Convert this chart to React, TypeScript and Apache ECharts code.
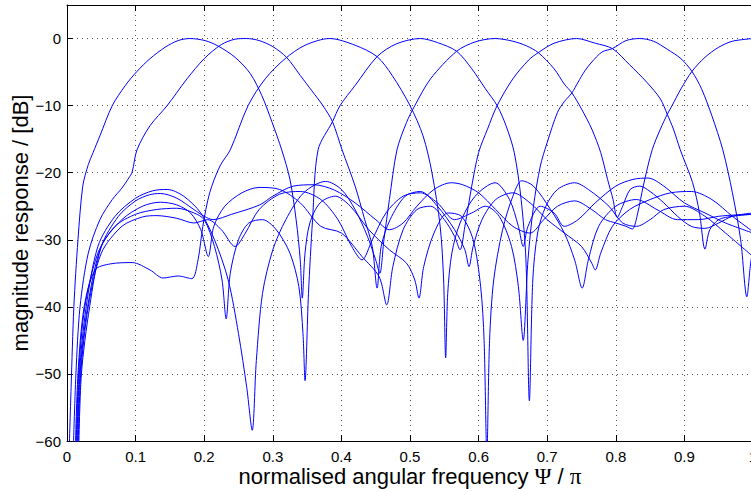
import React, { useEffect, useRef } from "react";
import * as echarts from "echarts";

// Frequency axis (normalised, Ψ/π) and magnitude (dB) ticks
const xTicks = [0, 0.1, 0.2, 0.3, 0.4, 0.5, 0.6, 0.7, 0.8, 0.9, 1];
const yTicks = [-60, -50, -40, -30, -20, -10, 0];

// Eight band-pass filter magnitude responses: [normalised frequency, dB]
const filterA: number[][] = [
  [0.003, -62], [0.006, -52], [0.01, -40], [0.016, -30], [0.023, -22], [0.031, -18.8], [0.038, -17], [0.048, -14.5],
  [0.066, -10], [0.085, -7], [0.102, -4.9], [0.121, -3], [0.143, -1.3], [0.162, -0.3], [0.179, 0], [0.201, -0.3],
  [0.22, -1.1], [0.245, -2.8], [0.267, -5.2], [0.284, -8.5], [0.299, -12.5], [0.313, -16.6], [0.325, -21], [0.334, -27],
  [0.34, -33], [0.343, -38.7], [0.347, -32], [0.354, -27.5], [0.369, -24.5], [0.391, -23.5], [0.413, -25], [0.44, -28.5],
  [0.47, -31.5], [0.495, -33.5], [0.507, -36], [0.513, -38.7], [0.52, -34], [0.535, -29], [0.555, -26], [0.575, -26.5],
  [0.592, -30], [0.603, -37], [0.608, -45], [0.612, -62], [0.616, -45], [0.622, -36], [0.635, -28.5], [0.65, -23.5],
  [0.663, -21.2], [0.68, -22], [0.705, -25.5], [0.725, -29], [0.74, -33], [0.751, -37.2], [0.76, -33], [0.775, -28],
  [0.8, -25], [0.83, -24], [0.86, -25.5], [0.89, -27], [0.92, -27], [0.95, -26.5], [0.975, -26.3], [1, -26.2],
];
const filterB: number[][] = [
  [0.009, -62], [0.013, -50], [0.019, -40], [0.031, -32], [0.048, -27], [0.066, -24], [0.08, -22.3], [0.09, -20.8],
  [0.095, -19.9], [0.102, -16.6], [0.121, -13], [0.146, -10], [0.175, -6], [0.2, -3], [0.225, -0.9], [0.245, -0.1],
  [0.262, 0], [0.28, -0.3], [0.3, -1.2], [0.32, -2.8], [0.34, -5.5], [0.357, -7.8], [0.373, -10], [0.387, -12.4],
  [0.401, -16.6], [0.42, -22], [0.434, -27], [0.445, -31], [0.452, -37.2], [0.458, -31], [0.471, -27], [0.493, -23.5],
  [0.515, -22.8], [0.54, -25], [0.565, -28.5], [0.58, -31.5], [0.586, -34], [0.592, -31], [0.605, -27], [0.625, -24],
  [0.65, -23], [0.675, -24.5], [0.7, -27], [0.725, -29], [0.75, -31], [0.765, -33.5], [0.77, -34.5], [0.778, -32],
  [0.795, -28], [0.82, -25.5], [0.85, -24], [0.88, -23], [0.91, -22.8], [0.94, -24], [0.97, -26.5], [1, -28.8],
];
const filterC: number[][] = [
  [0.012, -62], [0.016, -50], [0.025, -40], [0.041, -34.5], [0.063, -33.6], [0.095, -33.4], [0.121, -34.5], [0.14, -35.7],
  [0.162, -35.4], [0.182, -35.8], [0.191, -33], [0.198, -28], [0.208, -23], [0.223, -19], [0.238, -16.6], [0.264, -10],
  [0.289, -6], [0.318, -3], [0.347, -1], [0.383, 0], [0.42, -1], [0.452, -2.7], [0.474, -5.5], [0.5, -10],
  [0.519, -14.5], [0.532, -20], [0.544, -28], [0.549, -36], [0.552, -47.6], [0.555, -38], [0.561, -32], [0.573, -27.5],
  [0.595, -23.5], [0.624, -21.5], [0.645, -24], [0.658, -28], [0.665, -31], [0.672, -28], [0.69, -25], [0.71, -26],
  [0.725, -28], [0.745, -27], [0.77, -24.5], [0.8, -22], [0.825, -21], [0.847, -20.8], [0.87, -22], [0.9, -24.5],
  [0.93, -26], [0.96, -27.5], [1, -29],
];
const filterD: number[][] = [
  [0.013, -62], [0.017, -50], [0.026, -40], [0.045, -32], [0.07, -28], [0.1, -26.2], [0.13, -25.5], [0.16, -25.3],
  [0.185, -26], [0.2, -27], [0.215, -31], [0.226, -36], [0.232, -41.8], [0.238, -35], [0.25, -30], [0.265, -27.5],
  [0.285, -27], [0.305, -28.5], [0.325, -32], [0.338, -37], [0.344, -44], [0.347, -51], [0.352, -38], [0.358, -27],
  [0.366, -16.6], [0.387, -12.4], [0.398, -10], [0.42, -7], [0.452, -2.7], [0.48, -0.8], [0.515, 0], [0.54, -0.6],
  [0.568, -1.9], [0.59, -4.5], [0.61, -7.5], [0.627, -10], [0.64, -13], [0.652, -17], [0.662, -24], [0.669, -33],
  [0.674, -54], [0.679, -36], [0.686, -29], [0.698, -25], [0.715, -22.5], [0.74, -21.5], [0.76, -22.5], [0.79, -25],
  [0.81, -27.5], [0.83, -28], [0.85, -27], [0.87, -25.5], [0.9, -25], [0.93, -26.5], [0.96, -29], [1, -32.5],
];
const filterE: number[][] = [
  [0.014, -62], [0.018, -50], [0.028, -40], [0.045, -31], [0.07, -26.5], [0.1, -23.8], [0.125, -22.7], [0.146, -22.5],
  [0.17, -23.5], [0.195, -26], [0.215, -30], [0.235, -36], [0.25, -44], [0.262, -52], [0.27, -58.4], [0.276, -48],
  [0.285, -38], [0.3, -31.5], [0.319, -27], [0.345, -23], [0.377, -21.3], [0.4, -22.5], [0.42, -25.5], [0.438, -29.5],
  [0.45, -33], [0.456, -35], [0.462, -30], [0.47, -24], [0.481, -16.6], [0.495, -12.5], [0.507, -10], [0.53, -6],
  [0.568, -1.9], [0.595, -0.5], [0.624, 0], [0.65, -0.4], [0.67, -1.1], [0.687, -2.1], [0.71, -4.5], [0.725, -6.8],
  [0.736, -8.1], [0.75, -10.5], [0.765, -13.5], [0.778, -17], [0.788, -21], [0.796, -24], [0.802, -26.7], [0.81, -25],
  [0.821, -22.5], [0.835, -22], [0.85, -22.8], [0.87, -24.5], [0.89, -26.5], [0.91, -28], [0.93, -28.3], [0.95, -27.5],
  [0.97, -26.5], [1, -26],
];
const filterF: number[][] = [
  [0.015, -62], [0.019, -50], [0.03, -40], [0.05, -31], [0.08, -27], [0.11, -25], [0.136, -24.4], [0.16, -24.8],
  [0.18, -26], [0.195, -28.5], [0.206, -32.5], [0.214, -28], [0.23, -25], [0.255, -23], [0.28, -22.2], [0.31, -22.5],
  [0.34, -24.5], [0.37, -28], [0.4, -29], [0.43, -32.5], [0.455, -35.5], [0.466, -39.7], [0.475, -34], [0.49, -28.5],
  [0.51, -25.5], [0.53, -25], [0.55, -27], [0.565, -29.5], [0.573, -31.5], [0.58, -28], [0.59, -22], [0.6, -17],
  [0.613, -13.5], [0.627, -10], [0.65, -6], [0.673, -3.2], [0.687, -2.1], [0.71, -0.7], [0.743, 0], [0.77, -0.7],
  [0.795, -1.5], [0.82, -3.9], [0.845, -6.5], [0.865, -9], [0.875, -11.3], [0.884, -13.5], [0.894, -16.6], [0.912, -21.5],
  [0.922, -26], [0.93, -31.4], [0.937, -28.5], [0.95, -27], [0.97, -26.5], [1, -26.2],
];
const filterG: number[][] = [
  [0.016, -62], [0.02, -50], [0.031, -40], [0.05, -32], [0.08, -28], [0.11, -26.6], [0.131, -26.4], [0.16, -26.8],
  [0.185, -27.5], [0.205, -27], [0.225, -28.5], [0.245, -31], [0.26, -29], [0.28, -25.5], [0.31, -23.2], [0.34, -22.8],
  [0.37, -24], [0.395, -27], [0.415, -31], [0.43, -33], [0.445, -30], [0.465, -26], [0.49, -23.5], [0.515, -23],
  [0.54, -24.5], [0.565, -27], [0.59, -26], [0.61, -25], [0.63, -26.5], [0.648, -31], [0.658, -37], [0.665, -45],
  [0.672, -33], [0.68, -25], [0.69, -19], [0.7, -15.5], [0.715, -11], [0.725, -9.4], [0.736, -8.1], [0.745, -6.5],
  [0.755, -4.8], [0.765, -3.5], [0.78, -2], [0.795, -1.5], [0.815, -0.3], [0.835, 0], [0.855, -0.4], [0.875, -1.6],
  [0.895, -3], [0.911, -4.9], [0.925, -7.5], [0.94, -11.5], [0.956, -16.6], [0.97, -23], [0.982, -30], [0.991, -38.5],
  [0.996, -34], [1, -31],
];
const filterH: number[][] = [
  [0.017, -62], [0.021, -50], [0.033, -40], [0.05, -31], [0.075, -26.5], [0.1, -24.2], [0.12, -23.3], [0.136, -23.1],
  [0.16, -23.8], [0.185, -25.5], [0.2, -26.5], [0.213, -27], [0.24, -26.2], [0.281, -24.8], [0.3, -23.5], [0.33, -22],
  [0.36, -21.8], [0.39, -22.6], [0.42, -24.5], [0.45, -27], [0.47, -28.5], [0.49, -27.5], [0.51, -25], [0.535, -22.5],
  [0.56, -21.5], [0.577, -21.8], [0.6, -23], [0.625, -25.5], [0.65, -28], [0.675, -29], [0.695, -27], [0.715, -25],
  [0.74, -24.2], [0.765, -25.5], [0.785, -27], [0.8, -27.5], [0.815, -28], [0.824, -28.4], [0.832, -26], [0.84, -22],
  [0.853, -16.6], [0.865, -13.5], [0.875, -11.3], [0.882, -10], [0.895, -7.5], [0.911, -4.9], [0.93, -2.8], [0.95, -1.3],
  [0.97, -0.4], [1, 0],
];

const filters = [filterA, filterB, filterC, filterD, filterE, filterF, filterG, filterH];

const FONT = "'Liberation Sans', Arial, Helvetica, sans-serif";
const SERIF = "'Liberation Serif', 'DejaVu Serif', serif";

export default function App() {
  const ref = useRef<HTMLDivElement>(null);
  useEffect(() => {
    if (!ref.current) return;
    const chart = echarts.init(ref.current, undefined, { renderer: "svg" });
    const fmtY = (v: number) => {
      if (!yTicks.includes(v)) return "";
      return v < 0 ? "\u2212" + Math.abs(v) : String(v);
    };
    chart.setOption({
      animation: false,
      backgroundColor: "#ffffff",
      grid: { left: 67, right: -2, top: 5, bottom: 51, outerBoundsMode: "none" },
      xAxis: [
        {
          type: "value",
          min: 0,
          max: 1,
          interval: 0.1,
          name: "normalised angular frequency {s|\u03a8} / {s|\u03c0}",
          nameLocation: "middle",
          nameGap: 24,
          nameMoveOverlap: false,
          nameTextStyle: {
            color: "#000",
            fontSize: 22,
            fontFamily: FONT,
            rich: { s: { fontFamily: SERIF, fontSize: 23, color: "#000" } },
          },
          axisLine: { show: true, onZero: false, lineStyle: { color: "#000", width: 1 } },
          axisTick: { show: true, inside: true, length: 6, lineStyle: { color: "#000" } },
          axisLabel: {
            color: "#000",
            fontSize: 15,
            fontFamily: FONT,
            margin: 8,
            formatter: (v: number) => {
              const t = xTicks.find((x) => Math.abs(x - v) < 1e-6);
              return t === undefined ? "" : String(t);
            },
          },
          splitLine: { show: true, lineStyle: { color: "#555", width: 1, type: [1, 4] } },
        },
        {
          type: "value",
          position: "top",
          min: 0,
          max: 1,
          interval: 0.1,
          axisLine: { show: true, onZero: false, lineStyle: { color: "#000", width: 1 } },
          axisTick: { show: true, inside: true, length: 6, lineStyle: { color: "#000" } },
          axisLabel: { show: false },
          splitLine: { show: false },
        },
      ],
      yAxis: {
        type: "value",
        min: -60,
        max: 5,
        interval: 10,
        name: "magnitude response / [dB]",
        nameLocation: "middle",
        nameGap: 36,
        nameMoveOverlap: false,
        nameTextStyle: { color: "#000", fontSize: 22, fontFamily: FONT },
        axisLine: { show: true, onZero: false, lineStyle: { color: "#000", width: 1 } },
        axisTick: { show: true, inside: true, length: 6, lineStyle: { color: "#000" } },
        axisLabel: { color: "#000", fontSize: 15, fontFamily: FONT, margin: 6, formatter: fmtY },
        splitLine: { show: true, lineStyle: { color: "#555", width: 1, type: [1, 4] } },
      },
      series: filters.map((d, i) => ({
        type: "line",
        name: "filter" + (i + 1),
        xAxisIndex: 0,
        data: d,
        showSymbol: false,
        smooth: 0.3,
        clip: true,
        lineStyle: { color: "#0000ff", width: 1 },
        emphasis: { disabled: true },
      })),
    });
    return () => chart.dispose();
  }, []);
  return (
    <div
      ref={ref}
      style={{ position: "fixed", left: 0, top: 0, width: 751, height: 492, background: "#fff" }}
    />
  );
}
